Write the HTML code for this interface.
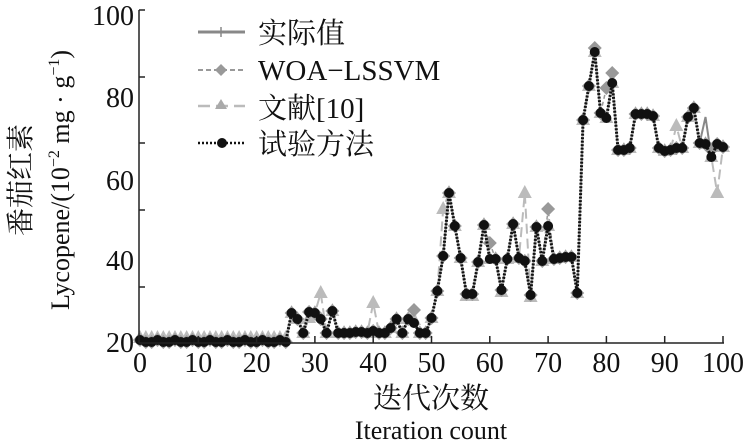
<!DOCTYPE html>
<html><head><meta charset="utf-8"><style>
html,body{margin:0;padding:0;background:#fff;}
svg{display:block;}
text{font-family:"Liberation Serif","Noto Serif CJK SC","Noto Sans CJK SC",serif;fill:#111;}
</style></head><body>
<svg id="s" width="750" height="446" viewBox="0 0 750 446" xmlns="http://www.w3.org/2000/svg">
<g id="series"></g>
<g stroke="#222" stroke-width="1.5" fill="none">
<line x1="139" y1="10" x2="139" y2="343"/>
<line x1="139" y1="343" x2="724" y2="343"/>
<line x1="139" y1="10" x2="145" y2="10"/>
<line x1="139" y1="77" x2="145" y2="77"/>
<line x1="139" y1="143" x2="145" y2="143"/>
<line x1="139" y1="210" x2="145" y2="210"/>
<line x1="139" y1="287" x2="145" y2="287"/>
</g>
<g id="xt" stroke="#222" stroke-width="1.5"></g>
<g font-size="28" text-anchor="end">
<text x="134" y="25">100</text>
<text x="134" y="107">80</text>
<text x="134" y="190">60</text>
<text x="134" y="270">40</text>
<text x="134" y="352">20</text>
</g>
<g id="xl" font-size="28" text-anchor="middle"></g>
<text x="431" y="408" font-size="29" text-anchor="middle">迭代次数</text>
<text x="431" y="439" font-size="26" text-anchor="middle">Iteration count</text>
<g transform="translate(30,180) rotate(-90)"><text x="0" y="0" font-size="28" text-anchor="middle">番茄红素</text></g>
<g transform="translate(69,180) rotate(-90)"><text x="0" y="0" font-size="26" text-anchor="middle">Lycopene/(10<tspan font-size="16" dy="-10">−2</tspan><tspan dy="10"> mg · g</tspan><tspan font-size="16" dy="-10">−1</tspan><tspan dy="10">)</tspan></text></g>
<g>
<line x1="198" y1="32" x2="245" y2="32" stroke="#888" stroke-width="3"/>
<line x1="221" y1="27" x2="221" y2="37" stroke="#888" stroke-width="1.5"/>
<line x1="198" y1="70" x2="245" y2="70" stroke="#999" stroke-width="2" stroke-dasharray="5,3"/>
<polygon points="221,64 227,70 221,76 215,70" fill="#999"/>
<line x1="198" y1="106" x2="245" y2="106" stroke="#bbb" stroke-width="2.5" stroke-dasharray="12,6"/>
<polygon points="221,99 227,109 215,109" fill="#aaa"/>
<line x1="198" y1="143" x2="245" y2="143" stroke="#111" stroke-width="2.5" stroke-dasharray="2,2"/>
<circle cx="222" cy="143" r="5" fill="#111"/>
</g>
<g font-size="29">
<text x="258" y="43">实际值</text>
<text x="258" y="80">WOA−LSSVM</text>
<text x="258" y="118">文献[10]</text>
<text x="258" y="154">试验方法</text>
</g>
</svg>
<script>
var NS="http://www.w3.org/2000/svg";
function el(t,a,p){var e=document.createElementNS(NS,t);for(var k in a)e.setAttribute(k,a[k]);p.appendChild(e);return e;}
var xt=document.getElementById('xt'),xl=document.getElementById('xl');
for(var i=0;i<=10;i++){var x=140+58.3*i;
 if(i>0)el('line',{x1:x,y1:343,x2:x,y2:336},xt);
 var t=el('text',{x:x,y:372},xl);t.textContent=String(i*10);}
var b=[];
for(var i=0;i<=25;i++)b.push(i%3==0?340:342);
b=b.concat([313,319,333,312,313,319,333,311,333,333,333,332,332,333,331,333,333,328,319,333,319,323,333,333,318,291,256,193,226,258,294,294,262,225,259,259,290,259,224,258,261,295,227,261,226,259,258,257,257,293,120,86,52,113,118,83,150,150,148,114,114,114,116,148,151,150,148,148,117,108,143,144,157,144,147]);
function X(i){return 140+5.83*i;}
var tri=b.slice(),dia=b.slice(),act=b.slice();
var to={31:293,40:303,52:209,66:193,92:126,99:193,47:320,29:318,56:296,57:296,62:292,67:297};
for(var k in to)tri[k]=to[k];
for(var i=0;i<=25;i++)tri[i]=338;
var dov={47:310,60:243,70:209,80:88,81:73,78:48,98:150};
for(var k in dov)dia[k]=dov[k];
act[97]=117;
var g=document.getElementById('series');
function pts(a){return a.map(function(y,i){return X(i)+','+y;}).join(' ');}
el('polyline',{points:pts(act),fill:'none',stroke:'#888','stroke-width':2},g);
el('polyline',{points:pts(tri),fill:'none',stroke:'#bbb','stroke-width':2,'stroke-dasharray':'10,5'},g);
el('polyline',{points:pts(dia),fill:'none',stroke:'#999','stroke-width':1.5,'stroke-dasharray':'4,3'},g);
for(var i=0;i<=100;i++){var x=X(i),y=tri[i];
 el('polygon',{points:(x)+','+(y-8)+' '+(x+7)+','+(y+5)+' '+(x-7)+','+(y+5),fill:'#bbb'},g);}
for(var i=0;i<=100;i++){var x=X(i),y=dia[i];
 el('polygon',{points:x+','+(y-7)+' '+(x+7)+','+y+' '+x+','+(y+7)+' '+(x-7)+','+y,fill:'#999'},g);}
el('polyline',{points:pts(b),fill:'none',stroke:'#111','stroke-width':3,'stroke-dasharray':'2,1.5'},g);
for(var i=0;i<=100;i++){el('circle',{cx:X(i),cy:b[i],r:5,fill:'#111'},g);}
</script>
</body></html>
